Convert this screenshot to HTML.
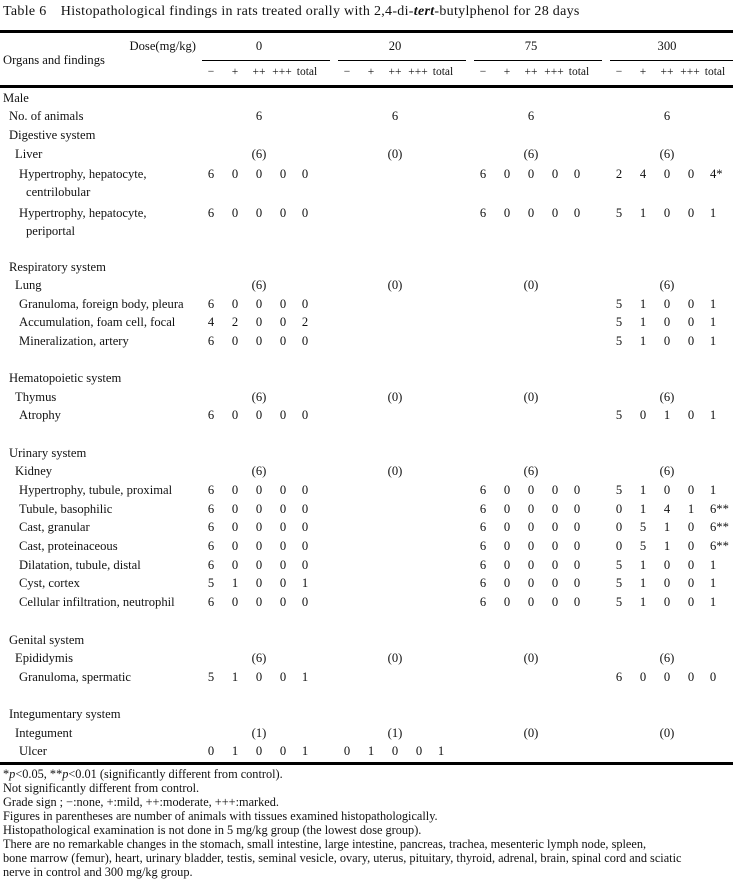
<!DOCTYPE html>
<html><head><meta charset="utf-8">
<style>
body{margin:0;width:733px;height:894px;background:#fff;position:relative;overflow:hidden;font-family:"Liberation Serif","Noto Serif CJK SC",serif;font-size:12.6px;color:#111;}
.t{position:absolute;white-space:nowrap;line-height:14px;transform:translateY(-7px);}
.c{transform:translate(-50%,-7px);}
.r{transform:translate(-100%,-7px);}
.ln{position:absolute;background:#000;}
</style></head>
<body>
<div class="t" style="left:3px;top:12px;font-size:14px;letter-spacing:0.3px">Table 6　Histopathological findings in rats treated orally with 2,4-di-<b><i>tert</i></b>-butylphenol for 28 days</div>
<div class="ln" style="left:0;top:30px;width:733px;height:3px"></div>
<div class="ln" style="left:0;top:85px;width:733px;height:3px"></div>
<div class="ln" style="left:0;top:762px;width:733px;height:3px"></div>
<div class="t" style="left:3px;top:60px">Organs and findings</div>
<div class="t r" style="left:196px;top:46px">Dose(mg/kg)</div>
<div id="root"></div>
<div class="t" style="left:3px;line-height:14px;transform:none;top:767px;font-size:12.3px">
*<i>p</i>&lt;0.05, **<i>p</i>&lt;0.01 (significantly different from control).<br>
Not significantly different from control.<br>
Grade sign ; −:none, +:mild, ++:moderate, +++:marked.<br>
Figures in parentheses are number of animals with tissues examined histopathologically.<br>
Histopathological examination is not done in 5 mg/kg group (the lowest dose group).<br>
There are no remarkable changes in the stomach, small intestine, large intestine, pancreas, trachea, mesenteric lymph node, spleen,<br>
bone marrow (femur), heart, urinary bladder, testis, seminal vesicle, ovary, uterus, pituitary, thyroid, adrenal, brain, spinal cord and sciatic<br>
nerve in control and 300 mg/kg group.</div>
<script>
const doses=["0","20","75","300"];
const grades=["−","+","++","+++","total"];
const groupX=[202,338,474,610];
const colOff=[9,33,57,80,105];
const labels=[
[98,3,"Male"],[116,9,"No. of animals"],[135,9,"Digestive system"],[154,15,"Liver"],
[174,19,"Hypertrophy, hepatocyte,"],[192,26,"centrilobular"],[213,19,"Hypertrophy, hepatocyte,"],[231,26,"periportal"],
[267,9,"Respiratory system"],[285,15,"Lung"],[304,19,"Granuloma, foreign body, pleura"],[322,19,"Accumulation, foam cell, focal"],[341,19,"Mineralization, artery"],
[378,9,"Hematopoietic system"],[397,15,"Thymus"],[415,19,"Atrophy"],
[453,9,"Urinary system"],[471,15,"Kidney"],[490,19,"Hypertrophy, tubule, proximal"],[509,19,"Tubule, basophilic"],[527,19,"Cast, granular"],[546,19,"Cast, proteinaceous"],[565,19,"Dilatation, tubule, distal"],[583,19,"Cyst, cortex"],[602,19,"Cellular infiltration, neutrophil"],
[640,9,"Genital system"],[658,15,"Epididymis"],[677,19,"Granuloma, spermatic"],
[714,9,"Integumentary system"],[733,15,"Integument"],[751,19,"Ulcer"]];
const centerRows=[[116,["6","6","6","6"]],[154,["(6)","(0)","(6)","(6)"]],[285,["(6)","(0)","(0)","(6)"]],[397,["(6)","(0)","(0)","(6)"]],[471,["(6)","(0)","(6)","(6)"]],[658,["(6)","(0)","(0)","(6)"]],[733,["(1)","(1)","(0)","(0)"]]];
const values=[
[174,[[6,0,0,0,0],null,[6,0,0,0,0],[2,4,0,0,"4*"]]],
[213,[[6,0,0,0,0],null,[6,0,0,0,0],[5,1,0,0,1]]],
[304,[[6,0,0,0,0],null,null,[5,1,0,0,1]]],
[322,[[4,2,0,0,2],null,null,[5,1,0,0,1]]],
[341,[[6,0,0,0,0],null,null,[5,1,0,0,1]]],
[415,[[6,0,0,0,0],null,null,[5,0,1,0,1]]],
[490,[[6,0,0,0,0],null,[6,0,0,0,0],[5,1,0,0,1]]],
[509,[[6,0,0,0,0],null,[6,0,0,0,0],[0,1,4,1,"6**"]]],
[527,[[6,0,0,0,0],null,[6,0,0,0,0],[0,5,1,0,"6**"]]],
[546,[[6,0,0,0,0],null,[6,0,0,0,0],[0,5,1,0,"6**"]]],
[565,[[6,0,0,0,0],null,[6,0,0,0,0],[5,1,0,0,1]]],
[583,[[5,1,0,0,1],null,[6,0,0,0,0],[5,1,0,0,1]]],
[602,[[6,0,0,0,0],null,[6,0,0,0,0],[5,1,0,0,1]]],
[677,[[5,1,0,0,1],null,null,[6,0,0,0,0]]],
[751,[[0,1,0,0,1],[0,1,0,0,1],null,null]]];
const valOff=[9,33,57,81,103];
const root=document.getElementById('root');
function txt(x,y,s,cls){const d=document.createElement('div');d.className='t'+(cls?' '+cls:'');d.style.left=x+'px';d.style.top=y+'px';d.textContent=s;root.appendChild(d);return d;}
doses.forEach((d,i)=>{
 const e=txt(groupX[i]+57,46,d,'c');
 
 
 const l=document.createElement('div');l.className='ln';l.style.left=groupX[i]+'px';l.style.top='60px';l.style.width=(i==3?123:128)+'px';l.style.height='1px';
 
 
 root.appendChild(l);
 grades.forEach((g,j)=>{const x=groupX[i]+colOff[j];const ge=txt(x,72,g,'c');
  ge.style.fontSize='11.5px';
  
  });
});
labels.forEach(r=>{const e=txt(r[1],r[0],r[2]);
 
 });
centerRows.forEach(r=>{r[1].forEach((v,i)=>{const e=txt(groupX[i]+57,r[0],v,'c');
 
 });});
values.forEach(r=>{r[1].forEach((g,i)=>{if(!g)return;g.forEach((v,j)=>{const s=String(v);let e;
 if(s.includes('*')){e=txt(groupX[i]+valOff[j]-3,r[0],s);}else{e=txt(groupX[i]+valOff[j],r[0],s,'c');}
 
 });});});
</script>
</body></html>
